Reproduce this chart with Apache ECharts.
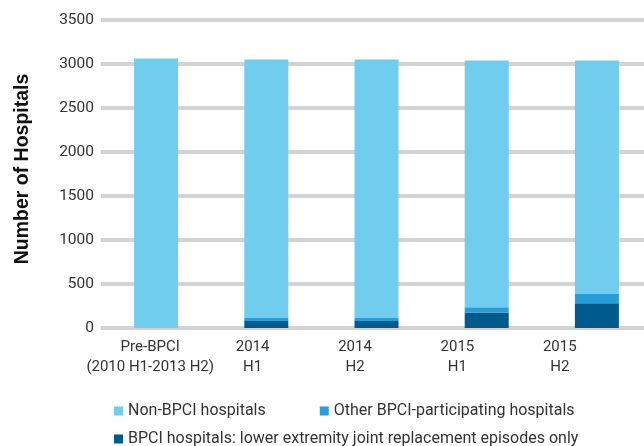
<!DOCTYPE html>
<html>
<head>
<meta charset="utf-8" />
<title>Number of Hospitals</title>
<style type="text/css">
body{ margin: 0; overflow: hidden; background: #fff; }
#main{ width: 644px; height: 446px; }
</style>
</head>
<body>
<div id="main"></div>
<script src="https://cdn.jsdelivr.net/npm/echarts@6/dist/echarts.min.js"></script>
<script type="text/javascript">
var categories = ['Pre-BPCI\n(2010 H1-2013 H2)', '2014\nH1', '2014\nH2', '2015\nH1', '2015\nH2'];
var lejrHospitals = [0, 80, 80, 175, 281];
var otherBpci = [0, 34, 34, 60, 106];
var nonBpci = [3062, 2936, 2936, 2805, 2653];
var yTicks = [0, 500, 1000, 1500, 2000, 2500, 3000, 3500];

var names = ['Non-BPCI hospitals', 'Other BPCI-participating hospitals',
  'BPCI hospitals: lower extremity joint replacement episodes only'];
var colors = ['#71cdee', '#289dd8', '#005a8c'];

var myChart = echarts.init(document.getElementById('main'));

var legendTxt = { color: '#333', fontSize: 16, fontFamily: 'Roboto' };

var option = {
  animation: false,
  grid: [
    // bars
    { left: 101, right: -8, top: 20, bottom: 118, containLabel: false, outerBoundsMode: 'none' },
    // category labels sit on a slightly narrower spacing in the original
    { left: 99, right: 33, top: 20, bottom: 118, containLabel: false, outerBoundsMode: 'none' }
  ],
  legend: [
    {
      data: [names[0], names[1]],
      left: 114, top: 403, padding: 0,
      itemWidth: 9, itemHeight: 9, itemGap: 54,
      icon: 'rect',
      textStyle: legendTxt
    },
    {
      data: [names[2]],
      left: 114, top: 431, padding: 0,
      itemWidth: 9, itemHeight: 9,
      icon: 'rect',
      textStyle: legendTxt
    }
  ],
  xAxis: [
    {
      gridIndex: 0,
      type: 'category',
      data: categories,
      axisLine: { show: false },
      axisTick: { show: false },
      axisLabel: { show: false }
    },
    {
      gridIndex: 1,
      type: 'category',
      data: categories,
      axisLine: { show: false },
      axisTick: { show: false },
      axisLabel: { interval: 0, color: '#333', fontSize: 15, fontFamily: 'Roboto', lineHeight: 20, margin: 9 }
    }
  ],
  yAxis: [
    {
      gridIndex: 0,
      type: 'value',
      min: yTicks[0],
      max: yTicks[yTicks.length - 1],
      interval: 500,
      name: 'Number of Hospitals',
      nameLocation: 'middle',
      nameGap: 68,
      nameTextStyle: { color: '#111', fontSize: 19.5, fontWeight: 'bold', fontFamily: 'Liberation Sans', padding: [0, 0, 0, 10] },
      axisLabel: {
        color: '#333', fontSize: 15.5, fontFamily: 'Roboto', margin: 7,
        formatter: function (v) { return String(v); }
      },
      splitLine: { lineStyle: { color: '#d2d3d5', width: 4 } }
    },
    {
      gridIndex: 1,
      type: 'value',
      min: yTicks[0],
      max: yTicks[yTicks.length - 1],
      show: false
    }
  ],
  series: [
    { name: names[2], type: 'bar', stack: 'h', barWidth: 44, data: lejrHospitals, itemStyle: { color: colors[2] } },
    { name: names[1], type: 'bar', stack: 'h', barWidth: 44, data: otherBpci, itemStyle: { color: colors[1] } },
    { name: names[0], type: 'bar', stack: 'h', barWidth: 44, data: nonBpci, itemStyle: { color: colors[0] } }
  ]
};

myChart.setOption(option);
</script>
</body>
</html>
